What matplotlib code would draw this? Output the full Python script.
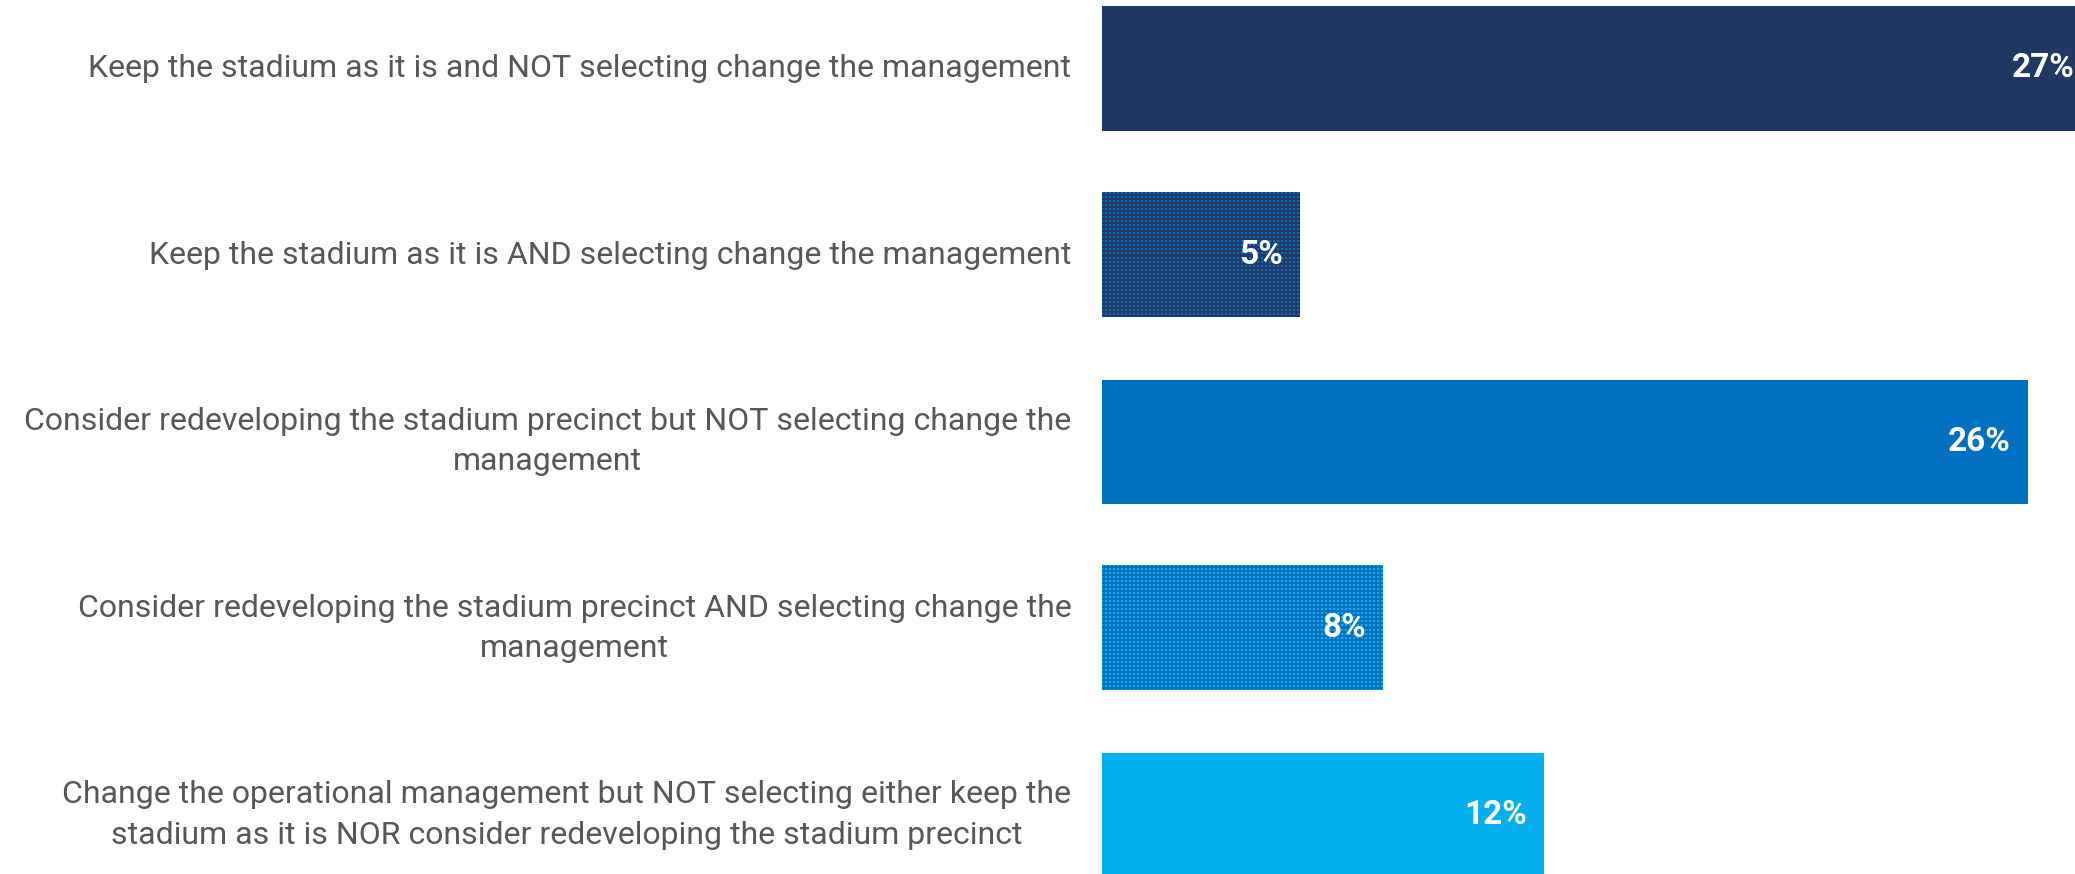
import matplotlib
matplotlib.use("Agg")
import numpy as np
import matplotlib.pyplot as plt
from matplotlib.colors import to_rgb
from matplotlib.transforms import offset_copy

categories = [
    "Keep the stadium as it is and NOT selecting change the management",
    "Keep the stadium as it is AND selecting change the management",
    "Consider redeveloping the stadium precinct but NOT selecting change the\nmanagement",
    "Consider redeveloping the stadium precinct AND selecting change the\nmanagement",
    "Change the operational management but NOT selecting either keep the\nstadium as it is NOR consider redeveloping the stadium precinct",
]
values = [27.4, 5.48, 25.65, 7.78, 12.24]
face_colors = ["#213864", "#213864", "#0070C0", "#0070C0", "#02B0F0"]
dot_colors = [None, "#0070C0", None, "#02B0F0", None]

W, H = 2075, 874
fig = plt.figure(figsize=(W / 100, H / 100), dpi=100)
ax = fig.add_axes([1102 / W, 0, 973 / W, 1])

ypos = list(range(len(values)))
bars = ax.barh(ypos, values, height=0.665, color=face_colors, linewidth=0)

XLIM = (0, 973 / 36.1)
YLIM = (4.317, -0.367)
ax.set_xlim(*XLIM)
ax.set_ylim(*YLIM)

# dotted texture for the "AND selecting" bars
for patch, fc, dc in zip(bars, face_colors, dot_colors):
    if dc is None:
        continue
    bb = patch.get_window_extent()
    nx, ny = max(int(round(bb.width)), 1), max(int(round(bb.height)), 1)
    img = np.empty((ny, nx, 3))
    img[:] = to_rgb(fc)
    xs = (np.arange(nx) + int(round(bb.x0))) % 4
    ys = (np.arange(ny) + int(round(H - bb.y1))) % 4
    mask = (np.isin(ys, [1, 2])[:, None]) & (np.isin(xs, [1, 2])[None, :])
    img[mask] = to_rgb(dc)
    x0, y0 = patch.get_x(), patch.get_y()
    ax.imshow(img, extent=(x0, x0 + patch.get_width(), y0 + patch.get_height(), y0),
              origin="upper", aspect="auto", interpolation="nearest",
              zorder=patch.get_zorder() + 0.1, clip_path=patch)

ax.set_xlim(*XLIM)
ax.set_ylim(*YLIM)

for i, v in enumerate(values):
    tr = offset_copy(ax.transData, fig=fig, x=-17, y=0, units="dots")
    ax.text(v, i, f"{round(v)}%", transform=tr, ha="right", va="center",
            color="white", fontsize=24, fontweight="bold",
            family=["Roboto", "DejaVu Sans"], clip_on=False, zorder=5)

ax.set_yticks(ypos)
ax.set_yticklabels(categories, fontsize=23, color="#575757",
                   family=["Roboto", "DejaVu Sans"], linespacing=1.5,
                   multialignment="center", va="center")
ax.tick_params(axis="y", length=0, pad=22)
ax.set_xticks([])
for s in ax.spines.values():
    s.set_visible(False)

fig.savefig("out.png", dpi=100)
